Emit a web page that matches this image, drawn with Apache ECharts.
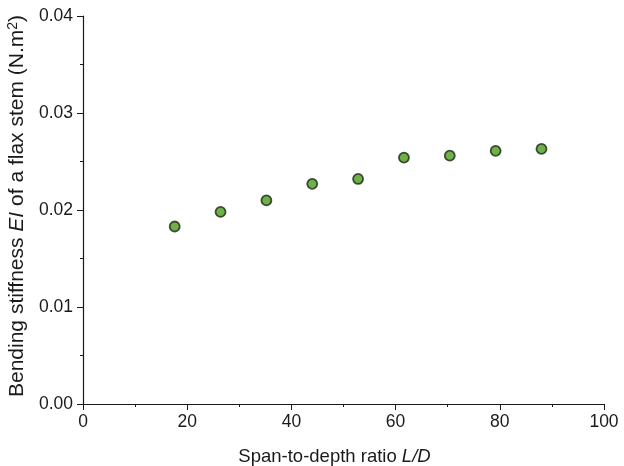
<!DOCTYPE html>
<html><head><meta charset="utf-8">
<script src="https://cdn.jsdelivr.net/npm/echarts@6/dist/echarts.min.js"></script>
<style>html,body{margin:0;padding:0;background:#fff}#c{width:624px;height:466px}</style>
</head><body><div id="c"></div>
<script>
const xValues = [17.6, 26.4, 35.2, 44.0, 52.8, 61.6, 70.4, 79.2, 88.0];
const yValues = [0.0183, 0.0198, 0.0210, 0.0227, 0.0232, 0.0254, 0.0256, 0.0261, 0.0263];
const xTicks = [0, 20, 40, 60, 80, 100];
const yTicks = [0.00, 0.01, 0.02, 0.03, 0.04];

const font = 'Liberation Sans, Arial, sans-serif';
const ink = '#1a1a1a';
const chart = echarts.init(document.getElementById('c'));
chart.setOption({
  animation: false,
  grid: {left: 83, right: 20, top: 16, bottom: 62, containLabel: false, outerBoundsMode: 'none'},
  xAxis: {
    type: 'value', min: xTicks[0], max: xTicks[xTicks.length-1], interval: 20,
    axisLine: {lineStyle: {color: ink, width: 1.2}},
    axisTick: {show: true, length: 6, lineStyle: {color: ink}},
    minorTick: {show: true, splitNumber: 2, length: 3, lineStyle: {color: ink}},
    splitLine: {show: false},
    axisLabel: {color: ink, fontSize: 17.5, fontFamily: font, margin: 9},
    name: '{n|Span-to-depth ratio }{i|L/D}',
    nameLocation: 'middle', nameGap: 43,
    nameTextStyle: {padding: [0, 18, 0, 0], rich: {n: {fontSize: 18.5, fontFamily: font, color: ink}, i: {fontSize: 18.5, fontFamily: font, fontStyle: 'italic', color: ink}}}
  },
  yAxis: {
    type: 'value', min: yTicks[0], max: yTicks[yTicks.length-1], interval: 0.01,
    axisLine: {show: true, lineStyle: {color: ink, width: 1.2}},
    axisTick: {show: true, length: 6, lineStyle: {color: ink}},
    minorTick: {show: true, splitNumber: 2, length: 3, lineStyle: {color: ink}},
    splitLine: {show: false},
    axisLabel: {color: ink, fontSize: 17.5, fontFamily: font, margin: 10, formatter: v => v.toFixed(2)},
    name: '{n|Bending stiffness }{i|EI}{n| of a flax stem (N.m}{s|2}{n|)}',
    nameLocation: 'middle', nameGap: 53, nameRotate: 90,
    nameTextStyle: {padding: [0, 0, 0, 8], rich: {
      n: {fontSize: 21, fontFamily: font, color: ink},
      i: {fontSize: 21, fontFamily: font, fontStyle: 'italic', color: ink},
      s: {fontSize: 14, fontFamily: font, color: ink, verticalAlign: 'top', padding: [0,0,8,0]}
    }}
  },
  series: [{
    type: 'scatter',
    data: xValues.map((x, i) => [x, yValues[i]]),
    symbol: 'circle', symbolSize: 10,
    itemStyle: {color: '#4c9c1e', borderColor: '#1c2a12', borderWidth: 1.8}
  }]
});
</script>
</body></html>
